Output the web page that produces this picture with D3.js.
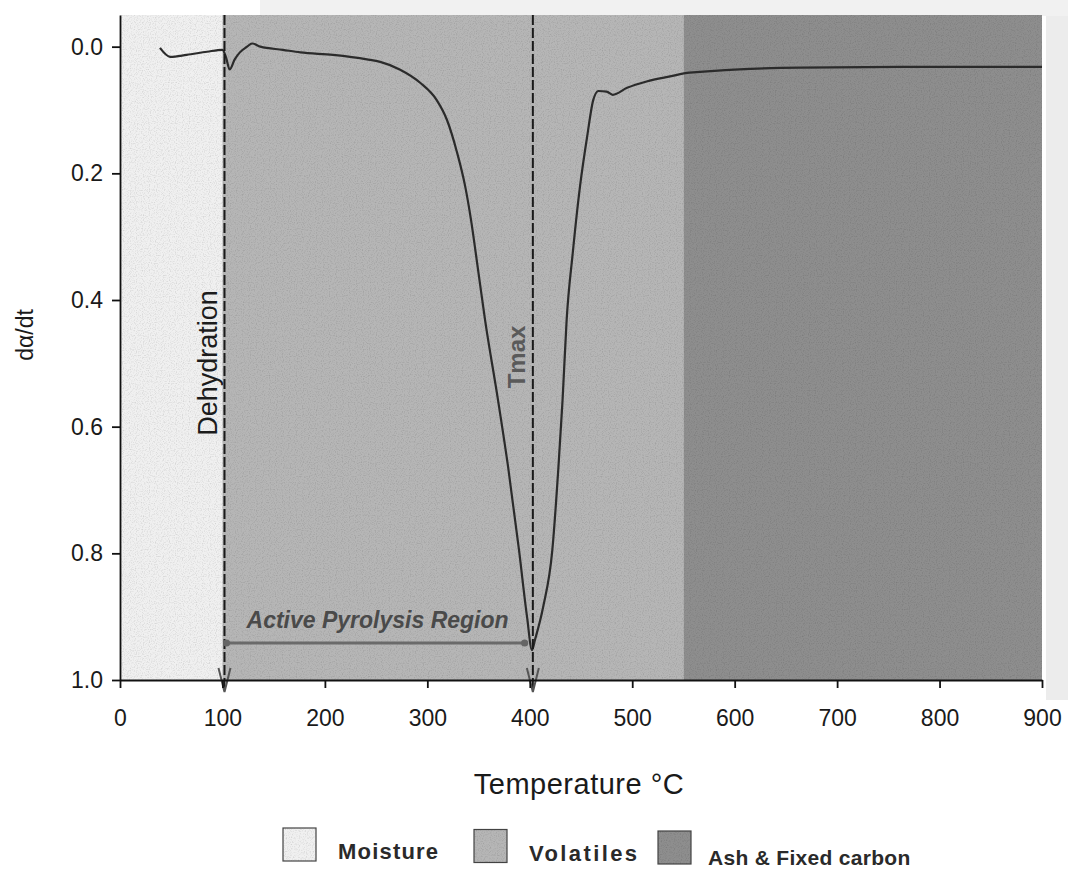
<!DOCTYPE html>
<html>
<head>
<meta charset="utf-8">
<script src="https://cdn.jsdelivr.net/npm/d3@7"></script>
<style>
  body { margin: 0; background: #fff; }
  svg { display: block; font-family: "Liberation Sans", Arial, sans-serif; }
  .tick text { font-size: 23px; fill: #1a1a1a; }
</style>
</head>
<body>
<svg id="chart" width="1068" height="874"></svg>
<script>
// data
const regionNames = ["Moisture", "Volatiles", "Ash & Fixed carbon"];
const regionStart = [0, 100, 550];
const regionEnd = [100, 550, 900];
const regionColors = ["#f0f0f0", "#b6b6b6", "#8e8e8e"];

const temps = [39, 49, 65, 85, 100, 103.5, 107, 112, 117, 124, 129, 137, 159, 176, 208, 241, 254, 273, 293, 309, 319, 329, 337, 342.6, 349.5, 356.3, 369, 378.8, 389.5, 397.3, 402.2,
    405, 413, 422, 428, 432, 436, 442, 449, 456, 462, 467, 475, 481, 495, 514, 537, 556, 664, 794, 900];
const rates = [0.002, 0.016, 0.013, 0.008, 0.005, 0.017, 0.036, 0.02, 0.009, 0.0, -0.005, 0.0, 0.005, 0.009, 0.013, 0.02, 0.024, 0.036, 0.057, 0.084, 0.115, 0.167, 0.221, 0.273, 0.352, 0.431, 0.558, 0.663, 0.795, 0.9, 0.953,
    0.937, 0.885, 0.795, 0.663, 0.558, 0.431, 0.325, 0.221, 0.142, 0.084, 0.07, 0.071, 0.076, 0.065, 0.055, 0.047, 0.041, 0.033, 0.032, 0.032];

const xTicks = [0, 100, 200, 300, 400, 500, 600, 700, 800, 900];
const yTicks = [0.0, 0.2, 0.4, 0.6, 0.8, 1.0];
const markers = [{ name: "Dehydration", t: 102 }, { name: "Tmax", t: 403 }];

const svg = d3.select("#chart");

const x = d3.scaleLinear().domain([0, 900]).range([120, 1042]);
const y = d3.scaleLinear().domain([-0.05, 1.0]).range([15, 680]);

// scan-like speckle
const defs = svg.append("defs");
const f = defs.append("filter").attr("id", "grain").attr("x", 0).attr("y", 0).attr("width", 1).attr("height", 1);
f.append("feTurbulence").attr("type", "fractalNoise").attr("baseFrequency", 0.85).attr("numOctaves", 1).attr("result", "n");
f.append("feColorMatrix").attr("in", "n").attr("type", "matrix")
    .attr("values", "0 0 0 0 0  0 0 0 0 0  0 0 0 0 0  0 0 0 -1.6 0.85").attr("result", "a");
f.append("feComposite").attr("in", "a").attr("in2", "SourceGraphic").attr("operator", "in");

defs.append("marker").attr("id", "dot").attr("viewBox", "0 0 10 10").attr("refX", 5).attr("refY", 5)
    .attr("markerWidth", 3).attr("markerHeight", 3)
    .append("circle").attr("cx", 5).attr("cy", 5).attr("r", 4).attr("fill", "#666");

// paper edge on the right and top
svg.append("rect").attr("x", 1046).attr("y", 0).attr("width", 22).attr("height", 700).attr("fill", "#ececec");
svg.append("rect").attr("x", 260).attr("y", 0).attr("width", 808).attr("height", 16).attr("fill", "#f1f1f1");

// regions
const regions = regionNames.map((name, i) => ({ name: name, a: regionStart[i], b: regionEnd[i], color: regionColors[i] }));
const gReg = svg.append("g");
gReg.selectAll("rect.region")
    .data(regions)
    .enter().append("rect")
    .attr("class", "region")
    .attr("x", d => x(d.a))
    .attr("y", y(-0.05))
    .attr("width", d => x(d.b) - x(d.a))
    .attr("height", y(1.0) - y(-0.05))
    .attr("fill", d => d.color);
gReg.append("rect")
    .attr("x", x(0)).attr("y", y(-0.05))
    .attr("width", x(900) - x(0)).attr("height", y(1.0) - y(-0.05))
    .attr("fill", "#000").attr("opacity", 0.2)
    .attr("filter", "url(#grain)");

// curve
const pts = temps.map((t, i) => [t, rates[i]]);
svg.append("path")
    .datum(pts)
    .attr("fill", "none")
    .attr("stroke", "#2b2b2b")
    .attr("stroke-width", 2.2)
    .attr("d", d3.line().x(d => x(d[0])).y(d => y(d[1])).curve(d3.curveMonotoneX));

// dashed marker lines with arrowheads
const gm = svg.append("g");
markers.forEach(m => {
    const mx = x(m.t);
    gm.append("line")
        .attr("x1", mx).attr("x2", mx)
        .attr("y1", y(-0.05)).attr("y2", y(1.0) + 10)
        .attr("stroke", "#1a1a1a").attr("stroke-width", 2)
        .attr("stroke-dasharray", "10,3");
    gm.append("path")
        .attr("d", `M${mx - 6},${y(1.0) - 12} L${mx},${y(1.0) + 12} L${mx + 6},${y(1.0) - 12}`)
        .attr("fill", "none").attr("stroke", "#555").attr("stroke-width", 2);
});

gm.append("text")
    .attr("transform", "translate(217,363) rotate(-90)")
    .attr("text-anchor", "middle")
    .attr("font-size", 27)
    .attr("fill", "#1c1c1c")
    .text("Dehydration");

gm.append("text")
    .attr("transform", "translate(525,357) rotate(-90)")
    .attr("text-anchor", "middle")
    .attr("font-size", 24)
    .attr("font-weight", "bold")
    .attr("fill", "#5a5a5a")
    .text("Tmax");

// active pyrolysis region
gm.append("line")
    .attr("x1", x(104)).attr("x2", x(395))
    .attr("y1", 643).attr("y2", 643)
    .attr("stroke", "#6a6a6a").attr("stroke-width", 3)
    .attr("marker-start", "url(#dot)").attr("marker-end", "url(#dot)");
gm.append("text")
    .attr("x", (x(104) + x(395)) / 2 + 2)
    .attr("y", 628)
    .attr("text-anchor", "middle")
    .attr("font-size", 23)
    .attr("font-style", "italic")
    .attr("font-weight", "bold")
    .attr("fill", "#4a4a4a")
    .text("Active Pyrolysis Region");

// axes
const xAxis = d3.axisBottom(x).tickValues(xTicks).tickSize(8).tickSizeOuter(0).tickPadding(22).tickFormat(d3.format("d"));
svg.append("g")
    .attr("transform", `translate(0,${y(1.0)})`)
    .call(xAxis)
    .call(g => g.selectAll("path, line").attr("stroke", "#111").attr("stroke-width", 1.8));

const yAxis = d3.axisLeft(y).tickValues(yTicks).tickSize(8).tickSizeOuter(0).tickPadding(9).tickFormat(d3.format(".1f"));
svg.append("g")
    .attr("transform", `translate(${x(0)},0)`)
    .call(yAxis)
    .call(g => g.selectAll("path, line").attr("stroke", "#111").attr("stroke-width", 1.8));

svg.selectAll(".tick text").attr("font-family", "Liberation Sans, Arial, sans-serif");

// axis titles
svg.append("text")
    .attr("transform", "translate(33,335) rotate(-90)")
    .attr("text-anchor", "middle")
    .attr("font-size", 23)
    .attr("fill", "#1a1a1a")
    .text("dα/dt");

svg.append("text")
    .attr("x", 579)
    .attr("y", 794)
    .attr("text-anchor", "middle")
    .attr("font-size", 29)
    .attr("letter-spacing", 0.5)
    .attr("fill", "#1a1a1a")
    .text("Temperature °C");

// legend
const legendX = [283, 474, 658];
const legendSpacing = [1.2, 2.4, 0.3];
const legendFont = [22, 22, 21];
const legend = svg.append("g");
const li = legend.selectAll("g")
    .data(regions)
    .enter().append("g")
    .attr("transform", (d, i) => `translate(${legendX[i]},${828 + i * 1.5})`);
li.append("rect")
    .attr("width", 33).attr("height", 33)
    .attr("fill", d => d.color)
    .attr("stroke", "#444").attr("stroke-width", 1.2);
li.append("rect")
    .attr("width", 33).attr("height", 33)
    .attr("fill", "#000").attr("opacity", 0.2)
    .attr("filter", "url(#grain)");
li.append("text")
    .attr("x", (d, i) => i === 2 ? 50 : 55)
    .attr("y", (d, i) => i === 2 ? 34 : 31)
    .attr("font-size", (d, i) => legendFont[i])
    .attr("font-weight", "bold")
    .attr("letter-spacing", (d, i) => legendSpacing[i])
    .attr("fill", "#2a2a2a")
    .text(d => d.name);
</script>
</body>
</html>
